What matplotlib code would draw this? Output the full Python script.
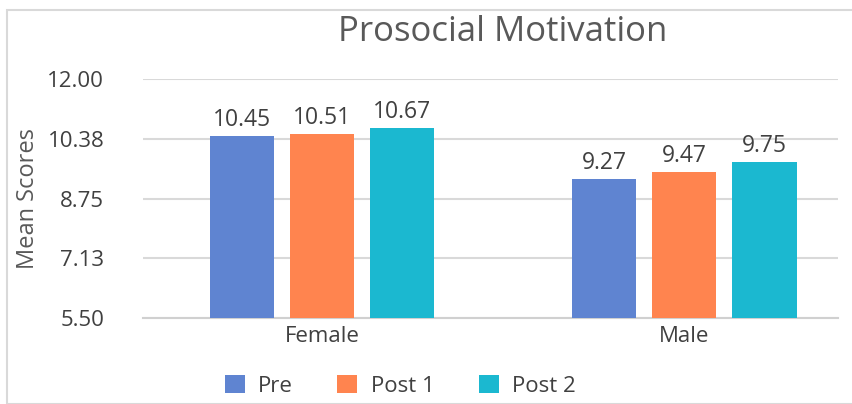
import matplotlib
matplotlib.use('Agg')

import matplotlib.pyplot as plt
from matplotlib.patches import Rectangle
import numpy as np

groups = ['Female', 'Male']
series = ['Pre', 'Post 1', 'Post 2']
pre = [10.45, 9.27]
post1 = [10.51, 9.47]
post2 = [10.67, 9.75]
yticks = [5.50, 7.13, 8.75, 10.38, 12.00]

colors = ['#5f84d1', '#ff844f', '#1bb8d0']
plt.rcParams['font.family'] = ['Open Sans', 'DejaVu Sans']

fig = plt.figure(figsize=(8.52, 4.04), dpi=100)
fig.patches.append(Rectangle((7 / 852, 0), 1, 1 - 10 / 404, transform=fig.transFigure,
                             fill=False, edgecolor='#d9d9d9', linewidth=1.5))

ax = fig.add_axes([0.168, 0.213, 0.816, 0.591])
x = np.arange(len(groups))
width = 0.177
offset = 0.221
for i, (name, vals) in enumerate(zip(series, [pre, post1, post2])):
    bars = ax.bar(x + (i - 1) * offset, vals, width, color=colors[i], label=name, zorder=3)
    ax.bar_label(bars, labels=[f'{v:.2f}' for v in vals], padding=3,
                 fontsize=16.5, color='#404040')

ax.set_ylim(5.5, 12.0)
ax.set_xlim(-0.494, 1.425)
ax.set_yticks(yticks)
ax.set_yticklabels([f'{t:.2f}' for t in yticks])
ax.set_xticks(x)
ax.set_xticklabels(groups)
ax.tick_params(axis='both', length=0, labelsize=16, labelcolor='#404040')
ax.tick_params(axis='y', pad=28)
ax.tick_params(axis='x', pad=6)
ax.grid(axis='y', color='#d9d9d9', linewidth=1.5, zorder=0)
for s in ['top', 'right', 'left']:
    ax.spines[s].set_visible(False)
ax.spines['bottom'].set_color('#d0d0d0')
ax.spines['bottom'].set_linewidth(1.5)
ax.set_ylabel('Mean Scores', fontsize=17, color='#595959')
ax.yaxis.set_label_coords(-0.148, 0.5)

fig.text(0.59, 0.922, 'Prosocial Motivation', ha='center', va='center',
         fontsize=25, color='#595959')

fig.legend(loc='center', bbox_to_anchor=(0.47, 0.045), ncol=3, frameon=False,
           fontsize=16, handlelength=0.9, handleheight=0.9, columnspacing=2.0,
           handletextpad=0.6, labelcolor='#404040')

plt.savefig('out.png', dpi=100)
